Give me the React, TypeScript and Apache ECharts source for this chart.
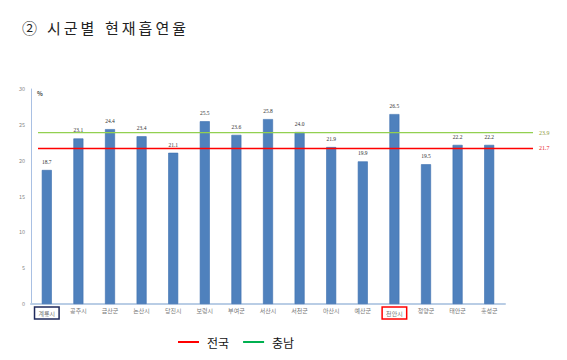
import React, { useEffect, useRef } from "react";
import * as echarts from "echarts";

const categories = ["계룡시", "공주시", "금산군", "논산시", "당진시", "보령시", "부여군", "서산시", "서천군", "아산시", "예산군", "천안시", "청양군", "태안군", "홍성군"];
const values = [18.7, 23.1, 24.4, 23.4, 21.1, 25.5, 23.6, 25.8, 24.0, 21.9, 19.9, 26.5, 19.5, 22.2, 22.2];
const nationalName = "전국";
const nationalValue = 21.7;
const provinceName = "충남";
const provinceValue = 23.9;
const navyBoxed = "계룡시";
const redBoxed = "천안시";
const titleMark = "②";
const titleA = "시군별";
const titleB = "현재흡연율";

const spaced = (s: string) => s.split("").join("\u2009");

export default function App() {
  const ref = useRef<HTMLDivElement>(null);
  useEffect(() => {
    if (!ref.current) return;
    const chart = echarts.init(ref.current, null, { renderer: "svg" });
    const font = "'Noto Sans CJK KR', 'Noto Sans', sans-serif";
    const titleStyle = { fontSize: 15, fill: "#222", fontFamily: font };
    chart.setOption({
      animation: false,
      backgroundColor: "#ffffff",
      textStyle: { fontFamily: font },
      graphic: [
        { type: "text", left: 22, top: 20, style: { ...titleStyle, text: titleMark } },
        { type: "text", left: 47, top: 20, style: { ...titleStyle, text: spaced(titleA) } },
        { type: "text", left: 105, top: 20, style: { ...titleStyle, text: spaced(titleB) } },
      ],
      legend: {
        left: 173,
        top: 331,
        itemWidth: 21,
        itemHeight: 2,
        itemGap: 14,
        icon: "rect",
        textStyle: { fontSize: 12, color: "#111", padding: [0, 0, 0, 3], fontFamily: font },
        data: [
          { name: nationalName, itemStyle: { color: "#ff0000" } },
          { name: provinceName, itemStyle: { color: "#00b050" } },
        ],
      },
      grid: [
        { left: 31, right: 62, top: 89, bottom: 56 },
        { left: 38, right: 34, top: 89, bottom: 56 },
      ],
      xAxis: [
        {
          type: "category",
          gridIndex: 0,
          data: categories,
          axisLine: { lineStyle: { color: "#b9cde5", width: 2 } },
          axisTick: { show: false },
          axisLabel: {
            interval: 0,
            fontSize: 6,
            color: "#777",
            margin: 3,
            formatter: (v: string) => (v === navyBoxed ? `{n|${v}}` : v === redBoxed ? `{r|${v}}` : v),
            rich: {
              n: { fontSize: 6, color: "#777", borderColor: "#1f2a5c", borderWidth: 1.5, padding: [3, 4, 3, 4] },
              r: { fontSize: 6, color: "#777", borderColor: "#ff0000", borderWidth: 1.5, padding: [3, 4, 3, 4] },
            },
          },
        },
        {
          type: "category",
          gridIndex: 1,
          data: ["a", "b"],
          boundaryGap: false,
          show: false,
        },
      ],
      yAxis: [
        {
          type: "value",
          gridIndex: 0,
          min: 0,
          max: 30,
          interval: 5,
          name: "%",
          nameLocation: "end",
          nameGap: -4,
          nameTextStyle: { fontSize: 6, fontWeight: "bold", color: "#444", align: "left", verticalAlign: "middle", padding: [0, 0, 0, 6] },
          axisLine: { show: true, lineStyle: { color: "#a9c0e3", width: 1 } },
          axisTick: { show: false },
          splitLine: { show: false },
          axisLabel: { fontSize: 5.5, color: "#888", margin: 6 },
        },
        { type: "value", gridIndex: 1, min: 0, max: 30, show: false },
      ],
      series: [
        {
          type: "bar",
          xAxisIndex: 0,
          yAxisIndex: 0,
          data: values,
          barWidth: 10,
          itemStyle: { color: "#4f81bd", borderColor: "#3d6fae", borderWidth: 0.6 },
          label: {
            show: true,
            position: "top",
            distance: 5,
            fontSize: 5.5,
            color: "#333",
            fontFamily: "'Liberation Serif', serif",
            formatter: (p: any) => p.value.toFixed(1),
          },
        },
        {
          type: "line",
          name: nationalName,
          xAxisIndex: 1,
          yAxisIndex: 1,
          data: [nationalValue, nationalValue],
          symbol: "none",
          lineStyle: { color: "#ff0000", width: 1.5 },
          itemStyle: { color: "#ff0000" },
          endLabel: {
            show: true,
            fontSize: 6,
            color: "#e8202a",
            distance: 6,
            fontFamily: "'Liberation Serif', serif",
            formatter: (p: any) => p.value.toFixed(1),
          },
          z: 3,
        },
        {
          type: "line",
          name: provinceName,
          xAxisIndex: 1,
          yAxisIndex: 1,
          data: [provinceValue, provinceValue],
          symbol: "none",
          lineStyle: { color: "#92d050", width: 1.2 },
          itemStyle: { color: "#00b050" },
          endLabel: {
            show: true,
            fontSize: 6,
            color: "#8f9a3c",
            distance: 6,
            fontFamily: "'Liberation Serif', serif",
            formatter: (p: any) => p.value.toFixed(1),
          },
          z: 3,
        },
      ],
    });
    return () => chart.dispose();
  }, []);
  return <div ref={ref} style={{ position: "fixed", left: 0, top: 0, width: 567, height: 360 }} />;
}
